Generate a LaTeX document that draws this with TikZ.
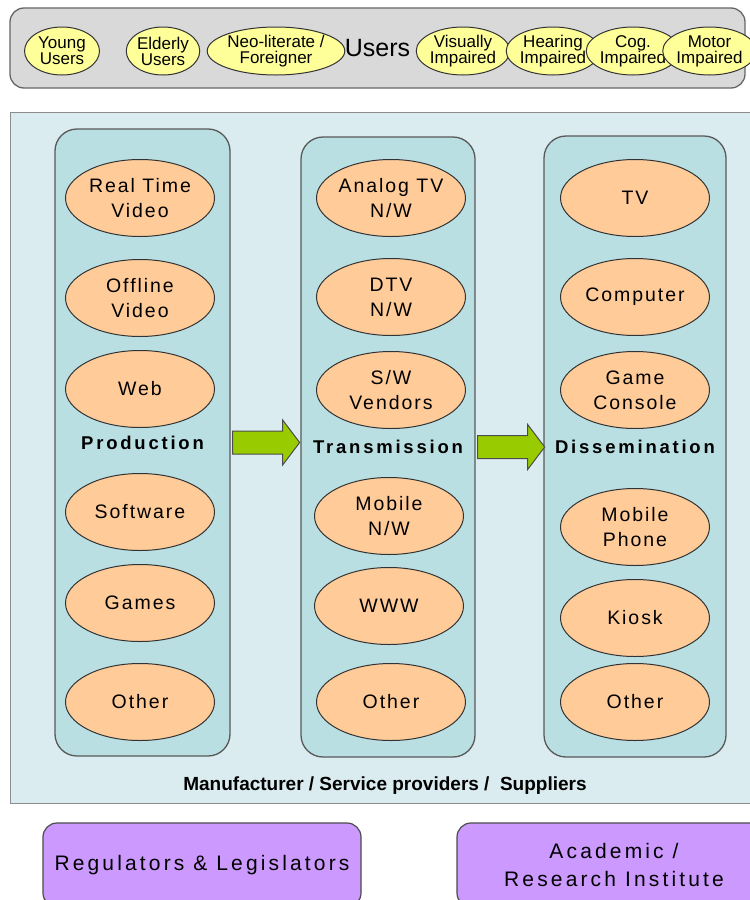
\documentclass[tikz,border=0pt]{standalone}
\usepackage{fontspec}
\setmainfont{Liberation Sans}
\newfontfamily\spacedfont[LetterSpace=10]{Liberation Sans}
\newfontfamily\widefont[LetterSpace=15]{Liberation Sans}
\usepackage{xcolor}
\usepackage{tikz}
\usetikzlibrary{calc}
\usetikzlibrary{shapes.geometric}

\definecolor{usergray}{HTML}{D9D9D9}
\definecolor{useryellow}{HTML}{FFFF99}
\definecolor{panelblue}{HTML}{DAECEF}
\definecolor{colblue}{HTML}{B9DFE3}
\definecolor{itemorange}{HTML}{FFCC99}
\definecolor{flowgreen}{HTML}{99CC00}
\definecolor{govpurple}{HTML}{CC99FF}

\begin{document}
\begin{tikzpicture}[x=1pt,y=-1pt,
	usersbar/.style={draw=black!60,fill=usergray,line width=1.3pt,rounded corners=14pt,minimum width=735pt,minimum height=80pt,inner sep=0pt,font=\fontsize{25}{28}\selectfont},
	user/.style={ellipse,draw=black!80,fill=useryellow,line width=1pt,inner sep=0pt,minimum height=48pt,align=center,font=\fontsize{17}{16}\selectfont},
	panel/.style={draw=black!45,fill=panelblue,line width=1pt},
	column/.style={draw=black!65,fill=colblue,line width=1.3pt,rounded corners=22pt,inner sep=0pt,font=\widefont\bfseries\fontsize{18.5}{22}\selectfont},
	item/.style={ellipse,draw=black!80,fill=itemorange,line width=1pt,inner sep=0pt,minimum width=149pt,minimum height=77pt,align=center,font=\spacedfont\fontsize{19.5}{25}\selectfont},
	flow/.style={draw=black!70,fill=flowgreen,line width=1pt},
	govbox/.style={draw=black!70,fill=govpurple,line width=1.2pt,rounded corners=14pt,inner sep=0pt,align=center,font=\widefont\fontsize{21}{28}\selectfont}]
	\useasboundingbox (0,0) rectangle (750,900);

	\node[usersbar] (users) at (377.5,48) {Users};
	\node[user,minimum width=75pt] (young) at (62,51) {Young\\Users};
	\node[user,minimum width=73pt] (elderly) at (163,51) {Elderly\\Users};
	\node[user,minimum width=123pt] (neolit) at (276,51) {Neo-literate /\\Foreigner};
	\node[user,minimum width=83pt] (visual) at (463,51) {Visually\\Impaired};
	\node[user,minimum width=84pt] (hearing) at (553,51) {Hearing\\Impaired};
	\node[user,minimum width=68pt] (cog) at (633,51) {Cog.\\Impaired};
	\node[user,minimum width=75pt] (motor) at (709.5,51) {Motor\\Impaired};

	\draw[panel] (10,112) rectangle (753,803);

	\node[column,minimum width=175pt,minimum height=627pt] (prod) at (142.5,442.5) {Production};
	\node[column,minimum width=174pt,minimum height=620pt] (trans) at (388,447) {Transmission};
	\node[column,minimum width=182pt,minimum height=621pt] (diss) at (635,446.5) {Dissemination};

	\node[item] (rtv) at (140,198) {Real Time\\Video};
	\node[item] (offv) at (140,298) {Offline\\Video};
	\node[item] (web) at (140,389) {Web};
	\node[item] (soft) at (140,512) {Software};
	\node[item] (games) at (140,603) {Games};
	\node[item] (pother) at (140,702) {Other};

	\node[item] (atv) at (391,198) {Analog TV\\N/W};
	\node[item] (dtv) at (391,297) {DTV\\N/W};
	\node[item] (swv) at (391,390) {S/W\\Vendors};
	\node[item] (mobnw) at (389,516) {Mobile\\N/W};
	\node[item] (www) at (389,606) {WWW};
	\node[item] (tother) at (391,702) {Other};

	\node[item] (tv) at (635,198) {TV};
	\node[item] (comp) at (635,297) {Computer};
	\node[item] (console) at (635,390) {Game\\Console};
	\node[item] (phone) at (635,527) {Mobile\\Phone};
	\node[item] (kiosk) at (635,618) {Kiosk};
	\node[item] (dother) at (635,702) {Other};

	\draw[flow] ($(prod.east)+(2,-11.5)$) -- ++(50,0) -- ++(0,-11) -- ++(17,22.5) -- ++(-17,22.5) -- ++(0,-11) -- ++(-50,0) -- cycle;
	\draw[flow] ($(trans.east)+(2,-11.5)$) -- ++(50,0) -- ++(0,-11) -- ++(17,22.5) -- ++(-17,22.5) -- ++(0,-11) -- ++(-50,0) -- cycle;

	\node[anchor=base,font=\bfseries\fontsize{19}{22}\selectfont] (makers) at (385,790) {Manufacturer / Service providers /\ \ Suppliers};

	\node[govbox,minimum width=318pt,minimum height=84pt] (regul) at (202,865) {Regulators \& Legislators};
	\node[govbox,minimum width=314pt,minimum height=84pt] (academic) at (614,865) {Academic /\\Research Institute};
\end{tikzpicture}
\end{document}
